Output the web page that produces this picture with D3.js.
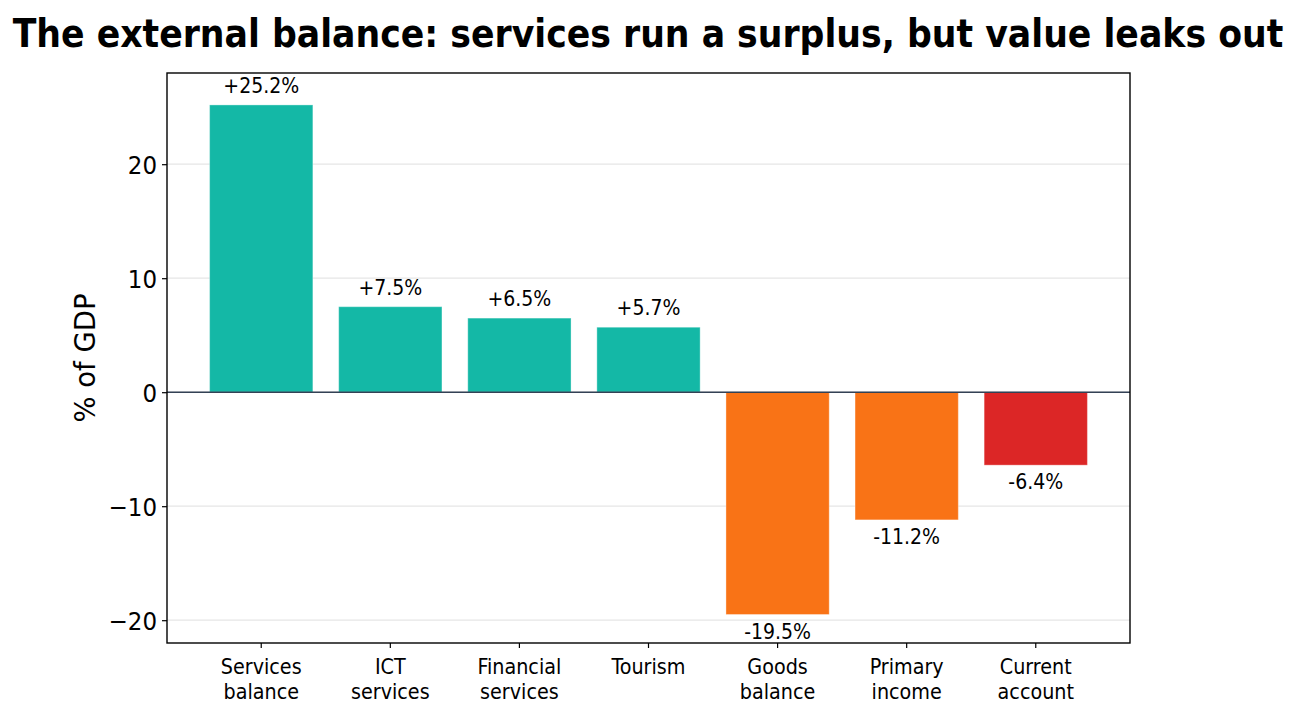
<html>
    <head>
        <title>External balance</title>
        <meta charset="utf8">
        <style>
            body { margin: 0; background: #fff; }
            text { font-family: "DejaVu Sans Condensed", "DejaVu Sans", sans-serif; fill: #000; }
            .grid line { stroke: #e6e6e6; stroke-width: 1.2px; }
            .axis path { display: none; }
            .axis line { stroke: #000; stroke-width: 1.2px; }
        </style>
    </head>
    <body>
        <svg width="1297" height="719"></svg>
        <script src="https://d3js.org/d3.v7.min.js"></script>
        <script>
            // chart data
            var categories = ["Services\nbalance", "ICT\nservices", "Financial\nservices", "Tourism",
                              "Goods\nbalance", "Primary\nincome", "Current\naccount"];
            var values = [25.2, 7.5, 6.5, 5.7, -19.5, -11.2, -6.4];
            var kinds = ["services", "services", "services", "services", "deficit", "deficit", "total"];
            var yTicks = [-20, -10, 0, 10, 20];

            var colours = { services: "#14b8a6", deficit: "#f97316", total: "#dc2626" };

            var svg = d3.select("svg");
            var plot = { left: 167, right: 1130, top: 73, bottom: 643 };

            var x = d3.scaleBand()
                .domain(d3.range(categories.length))
                .range([plot.left, plot.right])
                .paddingInner(0.2)
                .paddingOuter(0.33);

            var y = d3.scaleLinear()
                .domain([-22, 28])
                .range([plot.bottom, plot.top]);

            // light horizontal grid
            svg.append("g")
                .attr("class", "grid")
                .selectAll("line")
                .data(yTicks)
                .enter().append("line")
                .attr("x1", plot.left)
                .attr("x2", plot.right)
                .attr("y1", d => y(d))
                .attr("y2", d => y(d));

            // bars
            svg.append("g")
                .selectAll("rect")
                .data(values)
                .enter().append("rect")
                .attr("x", (d, i) => x(i))
                .attr("width", x.bandwidth())
                .attr("y", d => y(Math.max(0, d)))
                .attr("height", d => Math.abs(y(d) - y(0)))
                .attr("fill", (d, i) => colours[kinds[i]])
                .attr("stroke", "#ffffff")
                .attr("stroke-opacity", 0.35)
                .attr("stroke-width", 1);

            // zero line
            svg.append("line")
                .attr("x1", plot.left)
                .attr("x2", plot.right)
                .attr("y1", y(0))
                .attr("y2", y(0))
                .attr("stroke", "#334155")
                .attr("stroke-width", 1.6);

            // value labels
            svg.append("g")
                .selectAll("text")
                .data(values)
                .enter().append("text")
                .attr("x", (d, i) => x(i) + x.bandwidth() / 2)
                .attr("y", d => d >= 0 ? y(d) - 12 : y(d) + 24)
                .attr("text-anchor", "middle")
                .style("font-size", "21px")
                .text(d => (d >= 0 ? "+" : "") + d.toFixed(1) + "%");

            // y axis
            var yAxis = svg.append("g")
                .attr("class", "axis")
                .attr("transform", "translate(" + plot.left + ",0)")
                .call(d3.axisLeft(y).tickValues(yTicks).tickSize(5).tickPadding(5)
                    .tickFormat(d => d < 0 ? "\u2212" + Math.abs(d) : d));
            yAxis.selectAll("text").style("font-size", "25.5px").attr("dy", "0.35em");

            // x axis
            var xAxis = svg.append("g")
                .attr("class", "axis")
                .attr("transform", "translate(0," + plot.bottom + ")")
                .call(d3.axisBottom(x).tickSize(5).tickFormat(""));
            xAxis.selectAll(".tick").append("text")
                .attr("text-anchor", "middle")
                .style("font-size", "21.3px")
                .selectAll("tspan")
                .data(i => categories[i].split("\n"))
                .enter().append("tspan")
                .attr("x", 0)
                .attr("y", (d, j) => 31 + j * 24.5)
                .text(d => d);

            // frame
            svg.append("rect")
                .attr("x", plot.left)
                .attr("y", plot.top)
                .attr("width", plot.right - plot.left)
                .attr("height", plot.bottom - plot.top)
                .attr("fill", "none")
                .attr("stroke", "#000")
                .attr("stroke-width", 1.4);

            // y label
            svg.append("text")
                .attr("transform", "translate(95," + ((plot.top + plot.bottom) / 2) + ") rotate(-90)")
                .attr("text-anchor", "middle")
                .style("font-family", "'DejaVu Sans', sans-serif")
                .style("font-size", "27.5px")
                .text("% of GDP");

            // title
            svg.append("text")
                .attr("x", 648)
                .attr("y", 47)
                .attr("text-anchor", "middle")
                .style("font-size", "38.6px")
                .style("font-weight", "bold")
                .text("The external balance: services run a surplus, but value leaks out");
        </script>
    </body>
</html>
